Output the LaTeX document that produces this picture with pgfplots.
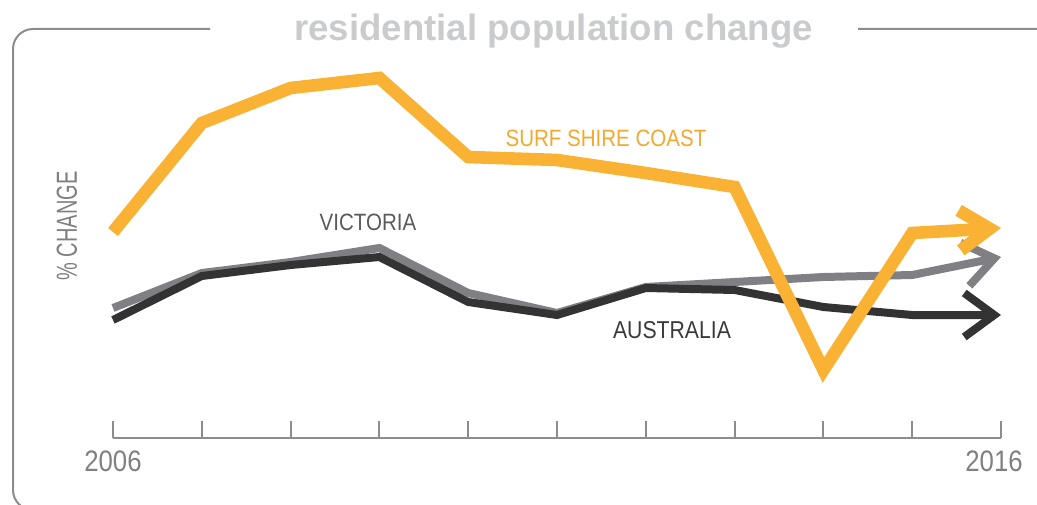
\documentclass[border=0pt]{standalone}
\usepackage{fontspec}
\setmainfont{Liberation Sans}
\newfontfamily\cond[FakeStretch=0.87]{Liberation Sans}
\newfontfamily\condb[FakeStretch=0.69]{Liberation Sans}
\usepackage{pgfplots}
\pgfplotsset{compat=1.18}
\usetikzlibrary{arrows.meta}
\definecolor{orng}{HTML}{F9B233}
\definecolor{orngtxt}{HTML}{F2A930}
\definecolor{vicgray}{HTML}{808084}
\definecolor{ausblk}{HTML}{333333}
\definecolor{victxt}{HTML}{5A5A5D}
\definecolor{austxt}{HTML}{3A3A3A}
\definecolor{framegray}{HTML}{8C8C8E}
\definecolor{axisgray}{HTML}{8C8C8E}
\definecolor{labgray}{HTML}{808082}
\definecolor{titlegray}{HTML}{CACBCD}
\begin{document}
\begin{tikzpicture}
\useasboundingbox (0,0) rectangle (518.5pt,252pt);
\clip (0,0) rectangle (518.5pt,252pt);
\draw[framegray, line width=1pt, rounded corners=10pt] (105pt,237.5pt) -- (6.5pt,237.5pt) -- (6.5pt,-3pt) -- (540pt,-3pt) -- (540pt,237.5pt) -- (429pt,237.5pt);
\begin{axis}[
  at={(56.5pt,33pt)}, anchor=south west,
  scale only axis, width=444pt, height=200pt,
  xmin=2006, xmax=2016, ymin=0, ymax=40,
  axis x line=bottom, axis y line=none,
  axis line style={-, line width=1pt, axisgray},
  xtick={2006,2007,2008,2009,2010,2011,2012,2013,2014,2015,2016},
  xticklabels={2006,{},{},{},{},{},{},{},{},{},{\hspace*{-7pt}2016}},
  tick align=inside, major tick length=8.5pt,
  tick style={line width=1pt, axisgray},
  xticklabel style={font=\cond\fontsize{14.8}{14.8}\selectfont, text=labgray, yshift=-3pt},
  clip=false, line join=miter,
]
\addplot[vicgray, line width=4pt, -{Straight Barb[length=15pt,width=22pt]}] coordinates {(2006,13.0)(2007,16.5)(2008,17.6)(2009,19.0)(2010,14.5)(2011,12.5)(2012,15.1)(2013,15.6)(2014,16.1)(2015,16.3)(2016,18.1)};
\addplot[ausblk, line width=4pt, -{Straight Barb[length=15pt,width=22pt]}] coordinates {(2006,11.8)(2007,16.2)(2008,17.3)(2009,18.1)(2010,13.6)(2011,12.3)(2012,15.0)(2013,14.8)(2014,13.1)(2015,12.3)(2016,12.3)};
\addplot[orng, line width=6.3pt, -{Straight Barb[length=15pt,width=20pt]}] coordinates {(2006,20.6)(2007,31.5)(2008,35.0)(2009,36.0)(2010,28.1)(2011,27.8)(2012,26.5)(2013,25.1)(2014,6.8)(2015,20.5)(2016,21.0)};
\end{axis}
\node[anchor=base, text=titlegray, font=\bfseries\fontsize{18.3}{18.3}\selectfont] at (276.75pt,231.5pt) {residential population change};
\node[text=orngtxt, font=\cond\fontsize{11.8}{11.8}\selectfont] at (303pt,183pt) {SURF SHIRE COAST};
\node[text=victxt, font=\cond\fontsize{11.8}{11.8}\selectfont] at (184pt,141pt) {VICTORIA};
\node[text=austxt, font=\cond\fontsize{12.2}{12.2}\selectfont] at (336pt,87pt) {AUSTRALIA};
\node[text=labgray, rotate=90, font=\condb\fontsize{14.5}{14.5}\selectfont] at (33.5pt,139pt) {\% CHANGE};
\end{tikzpicture}
\end{document}
